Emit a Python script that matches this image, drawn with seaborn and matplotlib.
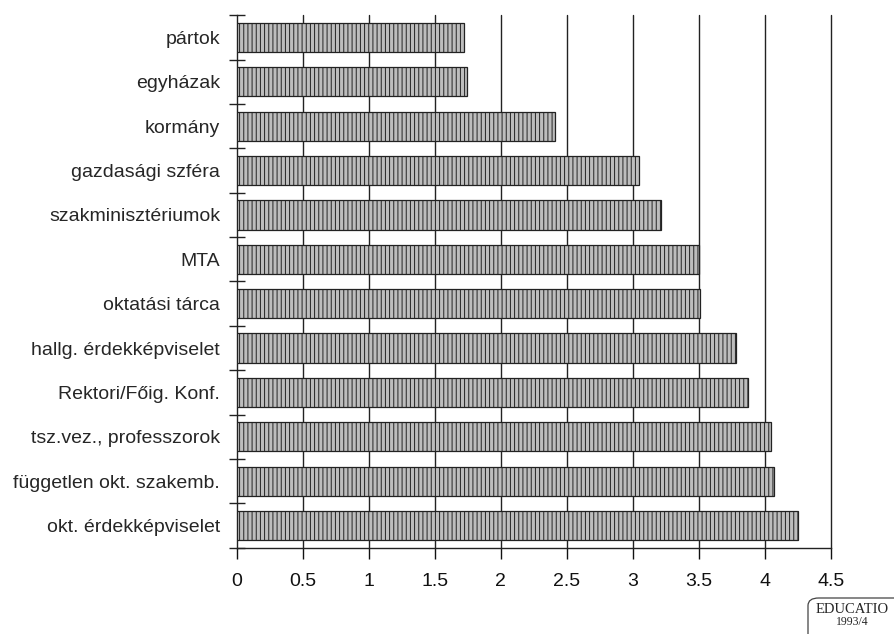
import matplotlib
matplotlib.use("Agg")
import matplotlib.pyplot as plt
from matplotlib.patches import FancyBboxPatch
import seaborn as sns
import pandas as pd
import numpy as np

categories = [
    "pártok", "egyházak", "kormány", "gazdasági szféra", "szakminisztériumok",
    "MTA", "oktatási tárca", "hallg. érdekképviselet", "Rektori/Főig. Konf.",
    "tsz.vez., professzorok", "független okt. szakemb.", "okt. érdekképviselet",
]
values = [1.72, 1.74, 2.41, 3.05, 3.21, 3.50, 3.51, 3.78, 3.87, 4.05, 4.07, 4.25]
xticks = [0, 0.5, 1, 1.5, 2, 2.5, 3, 3.5, 4, 4.5]
xtick_labels = ["0", "0.5", "1", "1.5", "2", "2.5", "3", "3.5", "4", "4.5"]

sns.set_style("white")
plt.rcParams["font.family"] = ["Liberation Sans", "DejaVu Sans"]
plt.rcParams["hatch.linewidth"] = 0.7
plt.rcParams["hatch.color"] = "#333333"

df = pd.DataFrame({"cat": categories, "val": values})

fig = plt.figure(figsize=(8.94, 6.34), dpi=100)
ax = fig.add_axes([0.265, 0.136, 0.6644, 0.840])

sns.barplot(data=df, y="cat", x="val", order=categories, orient="h",
            color="#bdbdbd", width=0.66, ax=ax, zorder=3)
for p in ax.patches:
    p.set_hatch("||||")
    p.set_edgecolor("#222222")
    p.set_linewidth(0.9)

ax.set_xlim(0, 4.5)
ax.set_ylim(len(categories) - 0.5, -0.5)
ax.set_xlabel("")
ax.set_ylabel("")

for x in xticks[1:]:
    ax.axvline(x, color="#222222", lw=1.0, zorder=1, clip_on=False)

ax.set_xticks(xticks)
ax.set_xticklabels(xtick_labels, fontsize=14)
ax.tick_params(axis="x", bottom=True, direction="out", length=8, width=1, pad=10,
               colors="#111111")

ax.set_yticks(range(len(categories)))
ax.set_yticklabels(categories, fontsize=14)
ax.tick_params(axis="y", which="major", left=False, length=0, pad=12)
ax.set_yticks(np.arange(-0.5, len(categories), 1), minor=True)
ax.tick_params(axis="y", which="minor", left=True, direction="inout", length=12,
               width=1, color="#222222")

for s in ["top", "right"]:
    ax.spines[s].set_visible(False)
for s in ["left", "bottom"]:
    ax.spines[s].set_color("#222222")
    ax.spines[s].set_linewidth(1.0)

fig.add_artist(FancyBboxPatch((808 / 894, -10 / 634), 120 / 894, 46 / 634,
                              boxstyle="round,pad=0,rounding_size=0.012",
                              transform=fig.transFigure, fc="none", ec="#444444",
                              lw=0.9, clip_on=False))
fig.text(0.953, 0.039, "EDUCATIO", family=["Liberation Serif", "DejaVu Serif"],
         fontsize=10.5, ha="center", va="center")
fig.text(0.953, 0.019, "1993/4", family=["Liberation Serif", "DejaVu Serif"],
         fontsize=8.5, ha="center", va="center")

fig.savefig("out.png", dpi=100)
